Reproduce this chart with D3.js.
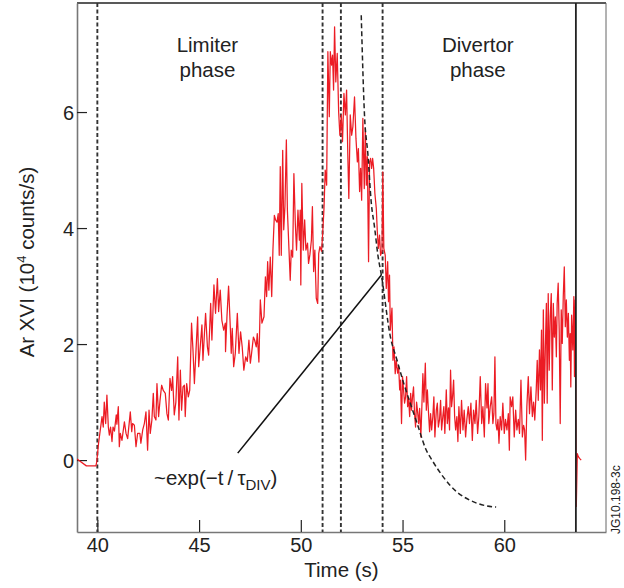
<!DOCTYPE html>
<html><head><meta charset="utf-8">
<script src="https://cdn.jsdelivr.net/npm/d3@7"></script>
<style>body{margin:0;background:#fff;} svg{display:block;font-family:"Liberation Sans",Arial,Helvetica,sans-serif;}</style>
</head><body>
<script>
// ---- data ----
const xTicks = [40, 45, 50, 55, 60];
const yTicks = [0, 2, 4, 6];
const phaseLabels = [["Limiter", "phase"], ["Divertor", "phase"]];
const phaseLabelTimes = [45.41, 58.7];
const markerTimes = [40, 51.07, 51.97, 54.02];   // dashed vertical lines
const disruptionTime = 63.52;                   // solid vertical line

const sigTime = [39.0,39.46,39.93,39.97,40.06,40.23,40.29,40.34,40.41,40.47,40.54,40.59,40.65,40.72,40.77,40.84,40.93,40.96,41.03,41.08,41.13,41.21,41.33,41.41,41.49,41.62,41.69,41.73,41.82,41.9,41.98,42.09,42.14,42.23,42.31,42.39,42.47,42.54,42.6,42.68,42.75,42.8,42.88,42.93,43.01,43.08,43.16,43.24,43.34,43.42,43.49,43.57,43.65,43.7,43.78,43.86,43.95,44.01,44.08,44.14,44.21,44.28,44.32,44.39,44.47,44.54,44.63,44.7,44.77,44.85,44.93,44.98,45.14,45.19,45.32,45.41,45.47,45.57,45.63,45.73,45.81,45.9,45.96,46.04,46.12,46.21,46.29,46.3,46.37,46.45,46.54,46.58,46.63,46.7,46.78,46.88,46.96,47.04,47.12,47.2,47.29,47.37,47.45,47.52,47.58,47.67,47.73,47.81,47.86,47.94,48.01,48.09,48.19,48.26,48.32,48.37,48.43,48.5,48.57,48.63,48.7,48.76,48.83,48.89,48.94,48.99,49.04,49.11,49.16,49.22,49.29,49.34,49.4,49.48,49.53,49.6,49.66,49.73,49.79,49.86,49.93,49.97,50.0,50.05,50.12,50.19,50.25,50.33,50.38,50.45,50.52,50.57,50.63,50.69,50.76,50.83,50.88,50.94,51.02,51.07,51.14,51.2,51.27,51.33,51.4,51.45,51.51,51.56,51.61,51.66,51.72,51.79,51.86,51.92,51.99,52.05,52.12,52.19,52.25,52.31,52.36,52.43,52.5,52.56,52.64,52.71,52.78,52.83,52.89,52.94,52.99,53.05,53.12,53.17,53.22,53.27,53.33,53.38,53.43,53.48,53.53,53.58,53.64,53.71,53.76,53.81,53.87,53.92,53.99,54.03,54.08,54.15,54.2,54.27,54.31,54.36,54.4,54.48,54.53,54.58,54.64,54.69,54.76,54.81,54.86,54.9,54.95,55.0,55.05,55.1,55.15,55.2,55.25,55.3,55.35,55.4,55.44,55.49,55.54,55.59,55.64,55.69,55.74,55.79,55.84,55.9,55.95,56.0,56.05,56.12,56.17,56.22,56.27,56.33,56.38,56.43,56.49,56.54,56.59,56.66,56.71,56.76,56.82,56.87,56.92,56.98,57.03,57.08,57.15,57.2,57.26,57.31,57.36,57.41,57.46,57.51,57.56,57.61,57.67,57.72,57.77,57.84,57.9,57.97,58.03,58.1,58.16,58.23,58.29,58.36,58.43,58.49,58.56,58.62,58.69,58.75,58.82,58.89,58.95,59.02,59.08,59.15,59.2,59.24,59.31,59.38,59.44,59.49,59.54,59.59,59.64,59.69,59.74,59.8,59.87,59.93,60.0,60.06,60.13,60.2,60.25,60.29,60.36,60.42,60.49,60.56,60.62,60.69,60.75,60.82,60.89,60.95,61.0,61.05,61.11,61.18,61.24,61.31,61.38,61.44,61.5,61.57,61.62,61.67,61.73,61.78,61.83,61.87,61.92,61.97,62.02,62.07,62.11,62.16,62.21,62.26,62.31,62.36,62.41,62.46,62.51,62.56,62.6,62.65,62.7,62.75,62.8,62.85,62.9,62.95,63.0,63.05,63.1,63.15,63.2,63.24,63.27,63.31,63.37,63.42,63.45,63.49,63.54,63.59,63.64,63.7,63.78];
const sigValue = [0.02,-0.1,-0.1,-0.03,0.29,0.75,0.57,1.0,0.63,1.12,0.57,0.43,0.57,0.32,0.57,0.5,0.78,0.62,0.92,0.23,0.46,0.34,0.66,0.46,0.37,0.83,0.49,0.63,0.6,0.23,0.46,0.46,0.29,0.52,0.63,0.83,0.17,0.86,0.46,0.69,1.15,0.75,0.69,1.32,0.75,1.03,1.29,1.2,1.15,0.8,0.69,1.41,1.2,1.44,0.78,1.0,1.78,0.69,1.55,0.86,1.26,1.29,0.75,1.32,1.09,1.2,2.36,1.9,1.32,1.9,2.47,1.61,2.33,1.72,2.53,1.95,1.81,2.7,2.07,3.02,2.53,3.13,2.56,2.93,2.41,2.24,2.36,1.87,2.47,3.0,2.24,1.84,2.27,1.61,1.84,2.53,1.84,2.21,1.95,1.55,1.78,1.7,2.07,1.67,1.84,2.12,2.07,1.95,2.18,1.69,2.76,2.36,2.47,3.16,2.82,3.42,2.93,3.5,2.82,3.62,4.22,4.14,4.1,4.25,3.53,5.06,3.53,5.34,3.97,4.37,5.52,4.31,3.79,3.1,3.62,3.5,4.94,4.08,3.62,4.31,3.79,4.31,3.02,4.77,3.62,4.14,3.62,3.74,3.39,3.55,3.79,4.37,3.25,3.62,2.79,2.7,3.56,3.68,3.6,3.88,4.34,5.0,4.74,7.04,5.92,7.04,6.81,6.98,6.38,7.47,6.52,7.01,6.0,5.6,5.95,5.49,6.32,5.95,6.38,5.26,4.51,5.95,5.6,5.75,6.26,5.55,5.14,5.37,4.63,5.03,4.48,5.89,4.68,5.72,4.74,5.23,3.42,5.14,5.2,5.03,5.2,5.03,4.6,4.34,3.94,3.65,3.88,3.53,3.6,4.97,3.65,3.53,2.96,3.42,2.73,3.19,2.24,2.62,1.72,1.95,1.49,1.72,1.5,1.61,1.21,1.38,0.63,1.44,1.21,0.98,1.09,1.44,0.92,1.06,0.75,1.15,0.86,1.09,1.26,0.8,0.57,1.0,0.83,0.63,0.89,0.4,0.92,1.49,1.0,1.67,0.86,1.21,0.86,0.49,0.8,0.52,0.75,1.09,0.4,0.86,0.98,0.57,0.7,1.03,0.52,0.75,0.92,0.46,1.21,0.63,0.9,0.52,1.55,0.92,1.1,1.38,0.75,0.52,0.75,0.32,0.92,0.46,1.03,0.52,0.86,0.4,0.7,0.92,0.63,0.98,0.34,0.86,0.63,1.03,0.46,0.75,1.44,0.63,0.92,0.4,1.32,0.9,1.32,0.63,0.92,1.09,0.63,0.8,1.78,0.63,0.52,0.7,0.29,0.75,0.52,0.98,0.46,0.7,0.52,0.8,0.17,1.09,0.92,1.09,0.4,0.86,0.52,0.7,0.46,1.38,0.4,0.6,0.52,0.0,0.92,1.44,0.8,1.26,0.75,1.0,0.69,1.21,1.72,1.03,1.9,1.21,2.24,0.34,2.59,0.98,1.95,2.7,0.98,2.87,1.55,2.47,2.87,1.21,2.7,2.12,2.47,1.78,2.7,3.05,2.24,0.63,2.59,2.01,2.82,3.33,2.3,2.76,2.12,2.53,1.72,2.18,1.26,2.5,1.9,2.82,1.44,2.76,-0.8,0.11,0.06,0.03,0.0];

// exponential-decay guide (dashed)
const fitTime = [52.97,53.13,53.3,53.46,53.63,53.79,53.96,54.4,54.73,55.06,55.39,55.72,56.13,56.5,57.0,57.67,58.3,59.13,59.6];
const fitValue = [7.67,5.95,5.26,4.45,4.0,3.53,3.19,2.13,1.72,1.32,0.97,0.63,0.2,-0.03,-0.29,-0.55,-0.69,-0.79,-0.81];

// annotation pointer line (data coordinates)
const pointerTime = [46.9, 53.96];
const pointerValue = [0.12, 3.19];

// ---- drawing ----
const W = 624, H = 588;
const L = 77, R = 606, T = 3, B = 532;
const svg = d3.select("body").append("svg").attr("width", W).attr("height", H);
const x = d3.scaleLinear().domain([39, 65]).range([L, R]);
const y = d3.scaleLinear().domain([-1.24, 7.88]).range([B, T]);

// frame: top & right
svg.append("line").attr("x1", L).attr("x2", R).attr("y1", T).attr("y2", T).attr("stroke", "#222").attr("stroke-width", 1.3);
svg.append("line").attr("x1", R).attr("x2", R).attr("y1", T).attr("y2", B).attr("stroke", "#666").attr("stroke-width", 1);

// axes
const xAxis = d3.axisBottom(x).tickValues(xTicks).tickSizeInner(-12).tickSizeOuter(0).tickPadding(6).tickFormat(d3.format("d"));
const gx = svg.append("g").attr("transform", `translate(0,${B})`).call(xAxis);
const yAxis = d3.axisLeft(y).tickValues(yTicks).tickSizeInner(-10).tickSizeOuter(0).tickPadding(14).tickFormat(d3.format("d"));
const gy = svg.append("g").attr("transform", `translate(${L},0)`).call(yAxis);
[gx, gy].forEach(g => {
  g.select(".domain").attr("stroke", "#777").attr("stroke-width", 1.6);
  g.selectAll(".tick line").attr("stroke", "#222").attr("stroke-width", 1.2);
  g.selectAll(".tick text").attr("font-size", 20).attr("fill", "#222").attr("font-family", "Liberation Sans, Arial, sans-serif");
});
gy.selectAll(".tick text").attr("dx", "0.55em").attr("dy", "0.36em");

// clip
svg.append("clipPath").attr("id", "clip").append("rect").attr("x", L).attr("y", T).attr("width", R - L).attr("height", B - T);
const plot = svg.append("g").attr("clip-path", "url(#clip)");

// dashed markers
plot.selectAll("line.marker").data(markerTimes).join("line").attr("class", "marker")
  .attr("x1", d => x(d)).attr("x2", d => x(d)).attr("y1", T).attr("y2", B)
  .attr("stroke", "#333").attr("stroke-width", 1.9).attr("stroke-dasharray", "4,2.5");

// red signal
const sig = sigTime.map((t, i) => [t, sigValue[i]]);
plot.append("path").datum(sig)
  .attr("d", d3.line().x(d => x(d[0])).y(d => y(d[1])))
  .attr("fill", "none").attr("stroke", "#ec1c24").attr("stroke-width", 1.25).attr("stroke-linejoin", "round");

// fit curve
const fit = fitTime.map((t, i) => [t, fitValue[i]]);
plot.append("path").datum(fit)
  .attr("d", d3.line().curve(d3.curveMonotoneX).x(d => x(d[0])).y(d => y(d[1])))
  .attr("fill", "none").attr("stroke", "#222").attr("stroke-width", 1.5).attr("stroke-dasharray", "5,3");

// pointer
plot.append("line").attr("x1", x(pointerTime[0])).attr("y1", y(pointerValue[0]))
  .attr("x2", x(pointerTime[1])).attr("y2", y(pointerValue[1]))
  .attr("stroke", "#111").attr("stroke-width", 1.5);

// disruption line
plot.append("line").attr("x1", x(disruptionTime)).attr("x2", x(disruptionTime)).attr("y1", T).attr("y2", B)
  .attr("stroke", "#222").attr("stroke-width", 1.8);

// phase labels
phaseLabels.forEach((lines, i) => {
  const t = svg.append("text").attr("x", x(phaseLabelTimes[i])).attr("y", 52).attr("text-anchor", "middle")
    .attr("font-size", 20.5).attr("fill", "#222");
  lines.forEach((s, j) => t.append("tspan").attr("x", x(phaseLabelTimes[i])).attr("dy", j ? 25 : 0).text(s));
});

// exp annotation
const ex = svg.append("text").attr("x", 154).attr("y", 485).attr("font-size", 20.5).attr("fill", "#222");
ex.append("tspan").text("~exp(\u2212t\u2009/\u2009\u03c4");
ex.append("tspan").attr("font-size", 15).attr("dy", 5).text("DIV");
ex.append("tspan").attr("dy", -5).text(")");

// axis titles
svg.append("text").attr("x", (L + R) / 2).attr("y", 577).attr("text-anchor", "middle")
  .attr("font-size", 20.5).attr("fill", "#222").text("Time (s)");
const yt = svg.append("text").attr("transform", "translate(34,262) rotate(-90)").attr("text-anchor", "middle")
  .attr("font-size", 20.5).attr("fill", "#222");
yt.append("tspan").text("Ar XVI (10");
yt.append("tspan").attr("font-size", 13).attr("dy", -8).text("4");
yt.append("tspan").attr("dy", 8).text(" counts/s)");

// figure id
svg.append("text").attr("transform", "translate(620,534) rotate(-90)").attr("font-size", 12).attr("fill", "#222").text("JG10.198-3c");
</script>
</body></html>
